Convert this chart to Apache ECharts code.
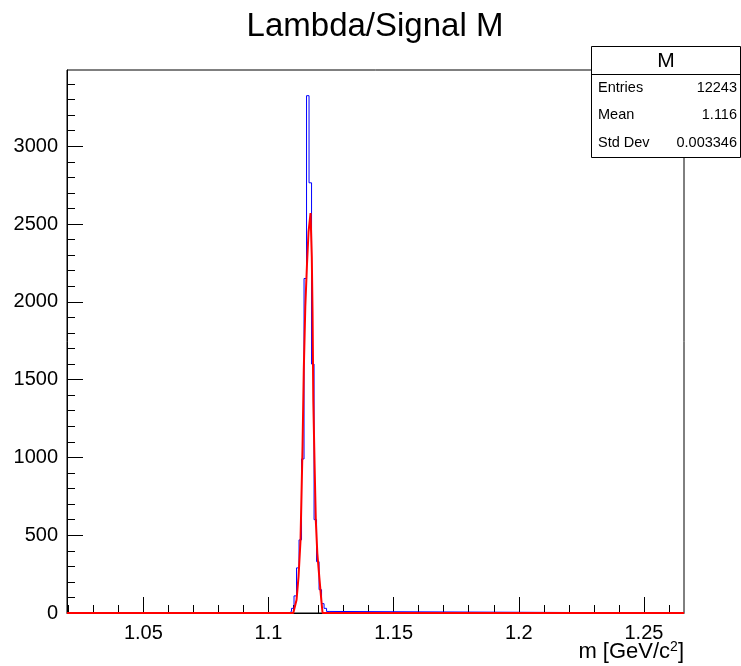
<!DOCTYPE html>
<html><head><meta charset="utf-8">
<script src="https://cdn.jsdelivr.net/npm/echarts@6/dist/echarts.min.js"></script>
<style>html,body{margin:0;padding:0;background:#fff}#c{width:741px;height:666px}</style>
</head><body><div id="c"></div>
<script>
// ---- axis ranges and ticks ----
const xMin = 1.0195, xMax = 1.266;
const yMin = 0, yMax = 3490;
const xMajorTicks = [1.05, 1.1, 1.15, 1.2, 1.25];
const xTickLabels = ['1.05', '1.1', '1.15', '1.2', '1.25'];
const xMinorTicks = [1.02,1.03,1.04,1.06,1.07,1.08,1.09,1.11,1.12,1.13,1.14,1.16,1.17,1.18,1.19,1.21,1.22,1.23,1.24,1.26];
const yMajorTicks = [0, 500, 1000, 1500, 2000, 2500, 3000];
const yTickLabels = ['0', '500', '1000', '1500', '2000', '2500', '3000'];
const yMinorTicks = [100,200,300,400,600,700,800,900,1100,1200,1300,1400,1600,1700,1800,1900,2100,2200,2300,2400,2600,2700,2800,2900,3100,3200,3300,3400];

// ---- histogram (blue) ----
const binLow = 1.1082, binWidth = 0.001;
const blueCounts = [10, 30, 110, 290, 470, 990, 2150, 3325, 2765, 1600, 600, 330, 150, 60, 30, 10];

// ---- fit curve (red) ----
const redX = [1.1099, 1.1112, 1.1120, 1.1128, 1.1136, 1.1141, 1.1147, 1.1154, 1.1160, 1.1168, 1.1173, 1.1176, 1.1179, 1.1184, 1.1189, 1.1195, 1.1203, 1.1211, 1.1216];
const redY = [0, 83, 233, 469, 1068, 1561, 1967, 2250, 2450, 2570, 2288, 1927, 1368, 963, 597, 385, 231, 83, 0];

// ---- texts ----
const chartTitle = 'Lambda/Signal M';
const statsTitle = 'M';
const statsLabels = ['Entries', 'Mean', 'Std Dev'];
const statsValues = ['12243', '1.116', '0.003346'];

const FONT = '"Liberation Sans", Arial, Helvetica, sans-serif';
const pick = (ticks, labels, v) => { const i = ticks.findIndex(t => Math.abs(t - v) < 1e-9); return i >= 0 ? labels[i] : ''; };

const bluePts = [[xMin, 0], [binLow, 0]];
blueCounts.forEach((c, i) => {
  const lo = binLow + i * binWidth, hi = lo + binWidth;
  bluePts.push([lo, c], [hi, c]);
});
bluePts.push([binLow + blueCounts.length * binWidth, 0], [xMax, 0]);

const redPts = [[xMin, 0]];
redX.forEach((x, i) => redPts.push([x, redY[i]]));
redPts.push([xMax, 0]);

const chart = echarts.init(document.getElementById('c'), null, {renderer: 'canvas'});

const g = [];
const bx = 591, by = 46, bw = 150, bh = 111;
g.push({type: 'rect', shape: {x: bx + 0.5, y: by + 0.5, width: bw - 1, height: bh}, style: {fill: '#fff', stroke: '#000', lineWidth: 1}, z: 100});
g.push({type: 'line', shape: {x1: bx, y1: 74.5, x2: bx + bw, y2: 74.5}, style: {stroke: '#000', lineWidth: 1}, z: 101});
g.push({type: 'text', x: bx + bw / 2, y: 61, style: {text: statsTitle, font: '21px ' + FONT, fill: '#000', align: 'center', verticalAlign: 'middle'}, z: 102});
const rowsY = [88, 115, 143];
statsLabels.forEach((l, i) => {
  g.push({type: 'text', x: 598, y: rowsY[i], style: {text: l, font: '14.5px ' + FONT, fill: '#000', align: 'left', verticalAlign: 'middle'}, z: 102});
  g.push({type: 'text', x: 737, y: rowsY[i], style: {text: statsValues[i], font: '14.5px ' + FONT, fill: '#000', align: 'right', verticalAlign: 'middle'}, z: 102});
});
g.push({type: 'text', x: 375, y: 27, style: {text: chartTitle, font: '33px ' + FONT, fill: '#000', align: 'center', verticalAlign: 'middle'}, z: 50});
g.push({type: 'text', right: 57, top: 640, style: {text: '{a|m [GeV/c}{s|2}{a|]}', rich: {a: {font: '22px ' + FONT, fill: '#000', verticalAlign: 'bottom'}, s: {font: '14px ' + FONT, fill: '#000', verticalAlign: 'top', padding: [0, 0, 9, 0]}}}, z: 50});

chart.setOption({
  animation: false,
  backgroundColor: '#fff',
  grid: {left: 67, right: 57, top: 70, bottom: 53, show: true, borderColor: '#000', borderWidth: 1, backgroundColor: 'transparent'},
  xAxis: [
    {
      type: 'value', min: xMin, max: xMax, position: 'bottom',
      axisLine: {show: true, onZero: false, lineStyle: {color: '#000', width: 1}},
      axisTick: {show: true, inside: true, length: 16, customValues: xMajorTicks, lineStyle: {color: '#000'}},
      axisLabel: {show: true, customValues: xMajorTicks, formatter: v => pick(xMajorTicks, xTickLabels, v), fontFamily: FONT, fontSize: 20, color: '#000', margin: 10},
      splitLine: {show: false}
    },
    {
      type: 'value', min: xMin, max: xMax, position: 'bottom',
      axisLine: {show: false, onZero: false},
      axisTick: {show: true, inside: true, length: 8, customValues: xMinorTicks, lineStyle: {color: '#000'}},
      axisLabel: {show: false}, splitLine: {show: false}
    }
  ],
  yAxis: [
    {
      type: 'value', min: yMin, max: yMax, position: 'left',
      axisLine: {show: true, onZero: false, lineStyle: {color: '#000', width: 1}},
      axisTick: {show: true, inside: true, length: 16, customValues: yMajorTicks, lineStyle: {color: '#000'}},
      axisLabel: {show: true, customValues: yMajorTicks, formatter: v => pick(yMajorTicks, yTickLabels, v), fontFamily: FONT, fontSize: 20, color: '#000', margin: 9},
      splitLine: {show: false}
    },
    {
      type: 'value', min: yMin, max: yMax, position: 'left',
      axisLine: {show: false, onZero: false},
      axisTick: {show: true, inside: true, length: 8, customValues: yMinorTicks, lineStyle: {color: '#000'}},
      axisLabel: {show: false}, splitLine: {show: false}
    }
  ],
  series: [
    {type: 'line', name: 'hist', data: bluePts, xAxisIndex: 0, yAxisIndex: 0, symbol: 'none', clip: false,
     lineStyle: {color: '#0000ff', width: 1}, z: 3},
    {type: 'line', name: 'fit', data: redPts, xAxisIndex: 0, yAxisIndex: 0, symbol: 'none', clip: false,
     lineStyle: {color: '#ff0000', width: 2}, z: 4}
  ],
  graphic: g
});
</script></body></html>
